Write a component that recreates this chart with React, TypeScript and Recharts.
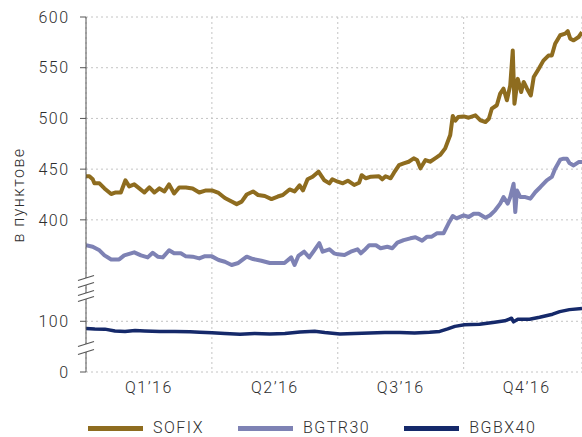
import React from 'react';
import { LineChart, Line, XAxis, YAxis, CartesianGrid } from 'recharts';

// x = months elapsed since 1 Jan 2016, values in index points
const sofixMonths = [
    0, 0.08, 0.16, 0.2, 0.32, 0.44, 0.6, 0.71, 0.83, 0.94, 1.03, 1.15, 1.27, 1.39, 1.51, 1.63, 1.75, 1.87, 1.98, 2.1, 2.22, 2.38, 2.54, 2.7, 2.86,
    3, 3.16, 3.31, 3.47, 3.59, 3.71, 3.83, 3.98, 4.1, 4.26, 4.42, 4.57, 4.69, 4.85, 4.97, 5.09, 5.17, 5.28, 5.4, 5.54, 5.68, 5.8, 5.87,
    6, 6.12, 6.24, 6.39, 6.51, 6.57, 6.67, 6.79, 6.98, 7.06, 7.14, 7.26, 7.34, 7.46, 7.57, 7.69, 7.81, 7.89, 7.97, 8.09, 8.2, 8.32, 8.44, 8.56, 8.68, 8.74, 8.8, 8.87,
    9, 9.12, 9.28, 9.4, 9.52, 9.6, 9.67, 9.79, 9.87, 9.95, 10.03, 10.11, 10.17, 10.21, 10.29, 10.37, 10.43, 10.51, 10.6, 10.67, 10.79, 10.9, 11.02, 11.1, 11.18, 11.3, 11.42, 11.48, 11.54, 11.62, 11.74, 11.82,
];
const sofixValues = [
    443, 443, 440, 436, 436, 431, 425.5, 427, 427, 439, 433, 435, 431, 427, 432, 427, 431, 428, 435, 426, 432, 432, 431, 427, 429,
    429, 426.5, 421.5, 418, 415.5, 418, 425, 428, 424.5, 423.5, 420.5, 423, 424.5, 430, 428, 434, 429, 440, 442.5, 447.5, 439, 436, 440,
    437.6, 436, 438.6, 434.4, 436.6, 444, 441, 442.6, 443, 440, 443, 441, 446.5, 454, 455.7, 457.3, 460.6, 459, 450.8, 459, 457.3, 460.6, 464, 470.5, 483.7, 502.4, 497.8, 501.4,
    502, 500.7, 503, 498, 496.5, 499.7, 509.6, 513, 524.4, 529.3, 517.9, 532.6, 567, 514.5, 539, 526, 536, 529.3, 522.7, 540.8, 549, 557, 562, 562, 573.7, 582, 583.6, 586, 578.6, 577, 580.3, 585,
];

const bgtr30Months = [
    0, 0.16, 0.32, 0.44, 0.6, 0.79, 0.91, 1.15, 1.31, 1.47, 1.59, 1.71, 1.83, 1.98, 2.1, 2.26, 2.38, 2.54, 2.7, 2.82,
    3, 3.16, 3.31, 3.47, 3.63, 3.83, 3.98, 4.18, 4.38, 4.57, 4.73, 4.89, 4.97, 5.06, 5.2, 5.32, 5.44, 5.56, 5.64, 5.8, 5.91,
    6, 6.16, 6.31, 6.47, 6.55, 6.63, 6.75, 6.91, 7.02, 7.18, 7.3, 7.42, 7.57, 7.73, 7.85, 8.01, 8.13, 8.24, 8.36, 8.52, 8.64, 8.74, 8.83,
    9, 9.12, 9.24, 9.36, 9.52, 9.63, 9.75, 9.87, 9.95, 10.05, 10.11, 10.19, 10.23, 10.27, 10.35, 10.47, 10.59, 10.71, 10.83, 10.98, 11.1, 11.18, 11.3, 11.38, 11.46, 11.52, 11.62, 11.74, 11.82,
];
const bgtr30Values = [
    375, 373.5, 370, 365, 361, 361, 365, 368, 365, 363, 367.6, 363.7, 363, 370, 367, 367, 364, 363.7, 362, 364,
    364, 360.4, 358.7, 355.5, 357.5, 363.7, 361.4, 359.7, 357.5, 357.5, 357.5, 363, 355.5, 364.4, 368.6, 363, 370, 377, 368.6, 371, 367,
    366, 365.3, 368.6, 371, 367, 370, 375, 375, 372, 373.5, 372, 377.5, 380, 381.8, 382.8, 379.5, 383.4, 383.4, 386.7, 386.7, 396.6, 403.8, 401.5,
    404.5, 402.8, 406, 406, 402, 404.5, 409.4, 416, 422.5, 416, 422.5, 435.6, 407.7, 429, 422.5, 422.5, 420.9, 427.5, 432.4, 439, 442.3, 450.4, 459.3, 460.3, 460.3, 456, 453.7, 457, 457,
];

const bgbx40Months = [
    0, 0.21, 0.45, 0.69, 0.93, 1.17, 1.4, 1.76, 2.12, 2.48, 2.71, 3, 3.31, 3.67, 4.02, 4.38, 4.74, 5.1, 5.45, 5.69, 6.05, 6.4,
    6.76, 7.12, 7.48, 7.83, 8.19, 8.43, 8.62, 8.79, 9.02, 9.38, 9.74, 9.98, 10.14, 10.19, 10.29, 10.57, 10.81, 11.12, 11.29, 11.52, 11.82,
];
const bgbx40Values = [
    86, 85, 84.5, 81, 80, 82, 81, 80, 80, 79.5, 78.5, 77.5, 76, 74.5, 76, 75, 76, 79, 80.5, 78, 75, 76,
    77, 78, 78, 77, 78.5, 80, 85, 90, 93, 94, 98, 101, 106, 99, 104, 104, 108, 114, 119, 123, 125,
];

const quarterStarts = [0, 3, 6, 9];
const quarterMids = [1.5, 4.5, 7.5, 10.5];
const quarterLabels = ['Q1’16', 'Q2’16', 'Q3’16', 'Q4’16'];
const yTickValues = [0, 100, 400, 450, 500, 550, 600];
const yTitle = 'в пунктове';

// broken axis: 0–100 drawn at half scale, 400–600 at full scale
const toAxis = (v: number) => (v > 200 ? v - 250 : v / 2);
const fromAxis = (d: number) => (d > 100 ? d + 250 : d * 2);

const toPoints = (xs: number[], vs: number[]) => xs.map((m, i) => ({ m, y: toAxis(vs[i]) }));

const series = [
    { name: 'SOFIX', color: '#8e6c1f', width: 4, data: toPoints(sofixMonths, sofixValues) },
    { name: 'BGTR30', color: '#7e82b4', width: 4, data: toPoints(bgtr30Months, bgtr30Values) },
    { name: 'BGBX40', color: '#15296a', width: 3.5, data: toPoints(bgbx40Months, bgbx40Values) },
];

const textColor = '#2e2e2e';
const axisColor = '#555';

// "//" marks where the y axis is cut, plus the rotated axis title
const AxisDecor = () => {
    const cuts = [[278, 285], [293, 299], [344, 352]];
    return (
        <svg width={582} height={437} style={{ position: 'absolute', left: 0, top: 0, pointerEvents: 'none' }}>
            {cuts.map(([a, b], i) => (
                <g key={i}>
                    <rect x={84} y={a} width={4} height={b - a} fill="#fff" />
                    <line x1={78} y1={a + 2.5} x2={94} y2={a - 2.5} stroke={axisColor} strokeWidth={1.2} />
                    <line x1={78} y1={b + 2.5} x2={94} y2={b - 2.5} stroke={axisColor} strokeWidth={1.2} />
                </g>
            ))}
            <text transform="translate(23.5,195) rotate(-90)" textAnchor="middle" fill={textColor} fontSize={16}>
                {yTitle}
            </text>
        </svg>
    );
};

const App: React.FC = () => {
    return (
        <div
            style={{
                position: 'absolute',
                left: 0,
                top: 0,
                width: 582,
                height: 437,
                fontFamily: 'Roboto, sans-serif',
                fontWeight: 300,
                letterSpacing: '1.5px',
                background: '#fff',
            }}
        >
            <LineChart width={582} height={437} margin={{ top: 17, right: 0, left: 0, bottom: 35 }}>
                <CartesianGrid xAxisId="q" strokeDasharray="2 3" stroke="#c4c4c4" />
                <XAxis
                    xAxisId="q"
                    type="number"
                    dataKey="m"
                    domain={[0, 11.82]}
                    ticks={quarterStarts}
                    height={0}
                    tickSize={6}
                    tickFormatter={() => ''}
                    stroke={axisColor}
                    tickLine={{ stroke: axisColor }}
                    allowDataOverflow
                />
                <XAxis
                    xAxisId="lbl"
                    type="number"
                    dataKey="m"
                    domain={[0, 11.82]}
                    ticks={quarterMids}
                    height={30}
                    tickSize={6}
                    tickMargin={4}
                    axisLine={false}
                    tickLine={false}
                    tickFormatter={(v: number) => quarterLabels[quarterMids.indexOf(v)] ?? ''}
                    tick={{ fill: textColor, fontSize: 16 }}
                    allowDataOverflow
                />
                <YAxis
                    type="number"
                    domain={[0, 350]}
                    ticks={yTickValues.map(toAxis)}
                    tickFormatter={(d: number) => String(Math.round(fromAxis(d)))}
                    width={86}
                    tickSize={6}
                    tickMargin={10.5}
                    stroke={axisColor}
                    tick={{ fill: textColor, fontSize: 16 }}
                    allowDataOverflow
                />
                {series.map((s) => (
                    <Line
                        key={s.name}
                        xAxisId="q"
                        data={s.data}
                        dataKey="y"
                        name={s.name}
                        type="linear"
                        stroke={s.color}
                        strokeWidth={s.width}
                        strokeLinejoin="round"
                        dot={false}
                        activeDot={false}
                        isAnimationActive={false}
                    />
                ))}
            </LineChart>
            <AxisDecor />
            <div style={{ position: 'absolute', left: 88, top: 418, display: 'flex', alignItems: 'center', fontSize: 16, color: textColor }}>
                {series.map((s) => (
                    <div key={s.name} style={{ display: 'flex', alignItems: 'center', marginRight: 34 }}>
                        <span style={{ display: 'inline-block', width: 55, height: 5, background: s.color }} />
                        <span style={{ marginLeft: 10, lineHeight: '20px' }}>{s.name}</span>
                    </div>
                ))}
            </div>
        </div>
    );
};

export default App;
